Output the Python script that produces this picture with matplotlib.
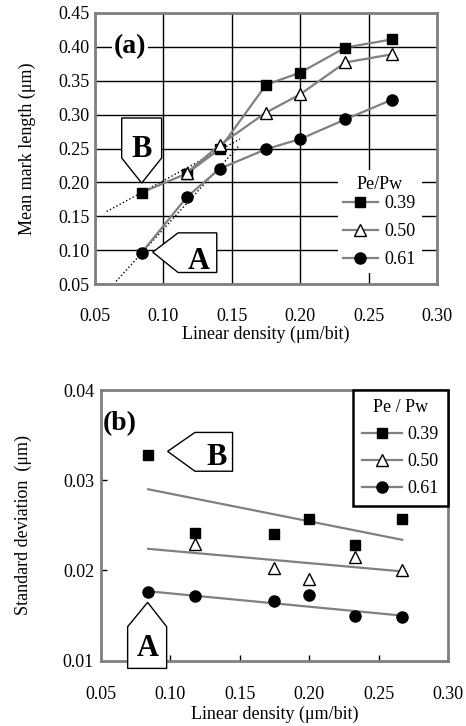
import matplotlib
matplotlib.use("Agg")
import matplotlib.pyplot as plt
from matplotlib.patches import Polygon

plt.rcParams['font.family'] = ['Liberation Serif', 'DejaVu Serif']
plt.rcParams['mathtext.fontset'] = 'stix'

# --- data, panel (a): mean mark length ---
x_a = [0.084, 0.117, 0.141, 0.175, 0.200, 0.233, 0.267]
len_039 = [0.185, 0.213, 0.249, 0.344, 0.362, 0.399, 0.411]
len_050 = [0.214, 0.255, 0.303, 0.330, 0.377, 0.389]
len_061 = [0.096, 0.178, 0.220, 0.249, 0.264, 0.293, 0.322]
# dotted tangent lines (start/end)
tanB_x = [0.0585, 0.156]
tanB_y = [0.157, 0.264]
tanA_x = [0.0654, 0.1548]
tanA_y = [0.054, 0.253]

# --- data, panel (b): standard deviation ---
x_b = [0.084, 0.118, 0.175, 0.200, 0.233, 0.267]
sd_039 = [0.0328, 0.0241, 0.0240, 0.0257, 0.0228, 0.0257]
x_b50 = [0.118, 0.175, 0.200, 0.233, 0.267]
sd_050 = [0.0229, 0.0203, 0.0191, 0.0215, 0.0200]
sd_061 = [0.0176, 0.0172, 0.0166, 0.0173, 0.0150, 0.0149]
fit_x = [0.084, 0.267]
fit_039 = [0.0290, 0.0234]
fit_050 = [0.0224, 0.0199]
fit_061 = [0.0177, 0.0150]

labels = ['0.39', '0.50', '0.61']
GRAY = '#808080'
TICK_FS = 13
LAB_FS = 13

fig = plt.figure(figsize=(4.66, 7.26), dpi=100)


def callout(ax, pts, txt, tx, ty):
    ax.add_patch(Polygon(pts, closed=True, facecolor='white', edgecolor='black',
                         linewidth=1.0, zorder=6, clip_on=False))
    ax.text(tx, ty, txt, fontsize=22, fontweight='bold', ha='center', va='center',
            zorder=7)


def style_spines(ax):
    for s in ax.spines.values():
        s.set_color(GRAY)
        s.set_linewidth(2.0)


# ---------------- panel (a) ----------------
ax1 = fig.add_axes([0.2039, 0.6088, 0.7339, 0.3733])
ax1.plot(x_a, len_039, color=GRAY, lw=1.6, marker='s', ms=7, mfc='black', mec='black',
         label=labels[0], zorder=4)
ax1.plot(x_a[1:], len_050, color=GRAY, lw=1.6, marker='^', ms=8, mfc='white', mec='black',
         mew=1.0, label=labels[1], zorder=4)
ax1.plot(x_a, len_061, color=GRAY, lw=1.6, marker='o', ms=8, mfc='black', mec='black',
         label=labels[2], zorder=4)
ax1.plot(tanB_x, tanB_y, ls=':', color='black', lw=1.0, zorder=3)
ax1.plot(tanA_x, tanA_y, ls=':', color='black', lw=1.0, zorder=3)

ax1.set_xlim(0.05, 0.30)
ax1.set_ylim(0.05, 0.45)
ax1.set_xticks([0.05, 0.10, 0.15, 0.20, 0.25, 0.30])
ax1.set_yticks([0.05, 0.10, 0.15, 0.20, 0.25, 0.30, 0.35, 0.40, 0.45])
ax1.set_xticklabels(['%.2f' % v for v in ax1.get_xticks()])
ax1.set_yticklabels(['%.2f' % v for v in ax1.get_yticks()])
ax1.tick_params(axis='both', length=0, labelsize=TICK_FS)
ax1.tick_params(axis='x', pad=17)
ax1.tick_params(axis='y', pad=4)
ax1.grid(True, color='black', lw=1.0)
ax1.set_axisbelow(True)
style_spines(ax1)
ax1.set_xlabel('Linear density (μm/bit)', fontsize=LAB_FS, labelpad=0.5)
ax1.set_ylabel('Mean mark length (μm)', fontsize=LAB_FS, labelpad=16)

ax1.text(0.0755, 0.401, '(a)', fontsize=20, fontweight='bold', ha='center', va='center',
         bbox=dict(facecolor='white', edgecolor='none', pad=1), zorder=5)

callout(ax1, [(0.0695, 0.295), (0.0987, 0.295), (0.0987, 0.236), (0.0841, 0.199),
              (0.0695, 0.236)], 'B', 0.0841, 0.248)
callout(ax1, [(0.0922, 0.097), (0.1107, 0.1255), (0.139, 0.1255), (0.139, 0.067),
              (0.1107, 0.067)], 'A', 0.1257, 0.083)

leg1 = ax1.legend(title='Pe/Pw', loc='lower right', bbox_to_anchor=(0.955, 0.039),
                  fontsize=TICK_FS, title_fontsize=TICK_FS, frameon=True,
                  facecolor='white', edgecolor='none', framealpha=1.0,
                  handlelength=1.9, handletextpad=0.4, labelspacing=0.6,
                  borderpad=0.3, borderaxespad=0)
leg1.get_frame().set_boxstyle('square', pad=0)
leg1._legend_box.sep = 2
leg1.set_zorder(5)

# ---------------- panel (b) ----------------
ax2 = fig.add_axes([0.2167, 0.0899, 0.7446, 0.3729])
ax2.plot(fit_x, fit_039, color=GRAY, lw=1.6, zorder=3)
ax2.plot(fit_x, fit_050, color=GRAY, lw=1.6, zorder=3)
ax2.plot(fit_x, fit_061, color=GRAY, lw=1.6, zorder=3)
ax2.plot(x_b, sd_039, ls='none', marker='s', ms=7, mfc='black', mec='black', zorder=4)
ax2.plot(x_b50, sd_050, ls='none', marker='^', ms=8, mfc='white', mec='black', mew=1.0,
         zorder=4)
ax2.plot(x_b, sd_061, ls='none', marker='o', ms=8, mfc='black', mec='black', zorder=4)

# legend proxies: gray line with marker
h1, = ax2.plot([], [], color=GRAY, lw=1.6, marker='s', ms=7, mfc='black', mec='black')
h2, = ax2.plot([], [], color=GRAY, lw=1.6, marker='^', ms=8, mfc='white', mec='black')
h3, = ax2.plot([], [], color=GRAY, lw=1.6, marker='o', ms=8, mfc='black', mec='black')

ax2.set_xlim(0.05, 0.30)
ax2.set_ylim(0.01, 0.04)
ax2.set_xticks([0.05, 0.10, 0.15, 0.20, 0.25, 0.30])
ax2.set_yticks([0.01, 0.02, 0.03, 0.04])
ax2.set_xticklabels(['%.2f' % v for v in ax2.get_xticks()])
ax2.set_yticklabels(['%.2f' % v for v in ax2.get_yticks()])
ax2.tick_params(axis='both', direction='in', length=4, width=1.0, color='black',
                labelsize=TICK_FS)
ax2.tick_params(axis='x', pad=18)
ax2.tick_params(axis='y', pad=5)
style_spines(ax2)
ax2.set_xlabel('Linear density (μm/bit)', fontsize=LAB_FS, labelpad=2)
ax2.set_ylabel('Standard deviation  (μm)', fontsize=LAB_FS, labelpad=22)

ax2.text(0.0635, 0.0363, '(b)', fontsize=20, fontweight='bold', ha='center', va='center',
         zorder=5)

callout(ax2, [(0.098, 0.0332), (0.1177, 0.0353), (0.1448, 0.0353), (0.1448, 0.0310),
              (0.1177, 0.0310)], 'B', 0.1334, 0.03256)
callout(ax2, [(0.0836, 0.01647), (0.0973, 0.01377), (0.0973, 0.00915), (0.0692, 0.00915),
              (0.0692, 0.01377)], 'A', 0.0834, 0.0114)

leg2 = ax2.legend([h1, h2, h3], labels, title='Pe / Pw', loc='upper right',
                  fontsize=TICK_FS, title_fontsize=TICK_FS, frameon=True,
                  facecolor='white', edgecolor='black', framealpha=1.0,
                  handlelength=2.2, handletextpad=0.3, labelspacing=0.55,
                  borderpad=0.5, borderaxespad=0)
leg2.get_frame().set_boxstyle('square', pad=0)
leg2.get_frame().set_linewidth(1.8)
leg2.set_zorder(6)

fig.savefig('out.png', dpi=100)
